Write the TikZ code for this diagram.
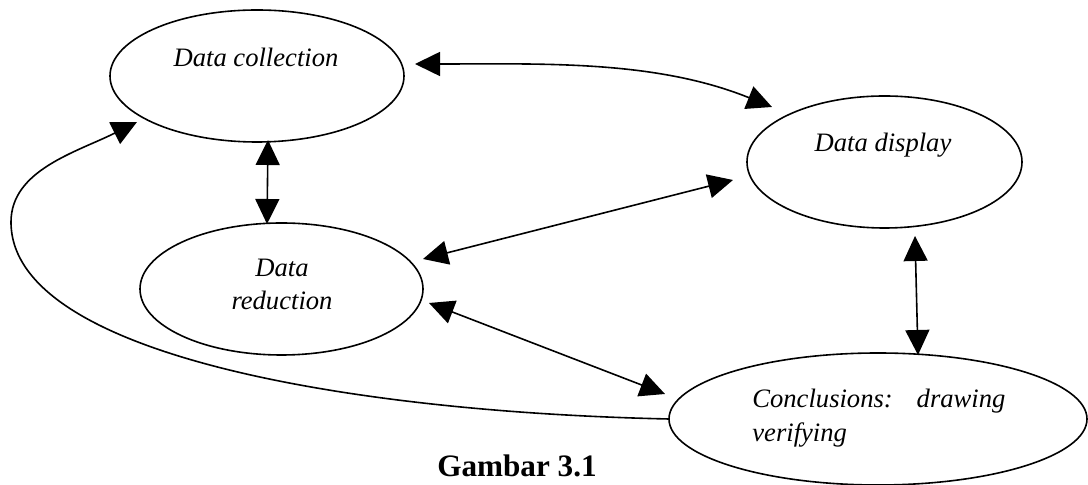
\documentclass[tikz,border=0pt]{standalone}
\usepackage{fontspec}
\setmainfont{Liberation Serif}
\usetikzlibrary{arrows.meta,calc,shapes.geometric}
\begin{document}
\begin{tikzpicture}[x=0.5pt,y=-0.5pt,
  ell/.style={draw, ellipse, line width=0.8pt, inner sep=0pt, outer sep=0pt},
  lbl/.style={font=\fontsize{13.3}{16}\selectfont\itshape, inner sep=0pt, anchor=base},
  dbl/.style={line width=0.8pt, {Triangle[length=12.5pt,width=12pt]}-{Triangle[length=12.5pt,width=12pt]}},
  one/.style={line width=0.8pt, -{Triangle[length=12.5pt,width=12pt]}}]
\useasboundingbox (0,0) rectangle (1088,485);
% ellipses
\node[ell, minimum width=147pt, minimum height=66pt] (col) at (257,76) {};
\node[ell, minimum width=141.5pt, minimum height=66pt] (red) at (281.5,289) {};
\node[ell, minimum width=137.5pt, minimum height=66pt] (dis) at (884.5,162) {};
\node[ell, minimum width=209pt, minimum height=66pt] (con) at (878,419) {};
% labels
\node[lbl] (colt) at (256,67) {Data collection};
\node[lbl] (dist) at (883,152) {Data display};
\node[lbl] (redt1) at (282,277) {Data};
\node[lbl] (redt2) at (282,310) {reduction};
\node[lbl, anchor=base west] (cont1) at (752,408) {\makebox[126.5pt][s]{Conclusions: drawing}};
\node[lbl, anchor=base west] (cont2) at (752,442) {verifying};
\node[font=\fontsize{15.6}{18}\selectfont\bfseries, inner sep=0pt, anchor=base] (cap) at (517,477) {Gambar 3.1};
% connectors
\draw[dbl] ($(col.east)+(11,-12)$) to[out=0,in=158,looseness=0.9] ($(dis.west)+(25,-55)$);
\draw[dbl] ($(col.south)+(11,-2)$) -- ($(red.north)+(-14.5,1)$);
\draw[dbl] ($(red.east)+(0,-30)$) -- ($(dis.west)+(-14,18)$);
\draw[dbl] ($(red.east)+(6,14)$) -- ($(con.west)+(-4,-25)$);
\draw[dbl] ($(dis.south)+(30.5,8)$) -- ($(con.north)+(40,2)$);
\draw[one] (con.west) .. controls (350,412) and (11,355) .. (11,222)
  .. controls (11,170) and (77,152) .. ($(col.center)+(-120,46)$);
\end{tikzpicture}
\end{document}
